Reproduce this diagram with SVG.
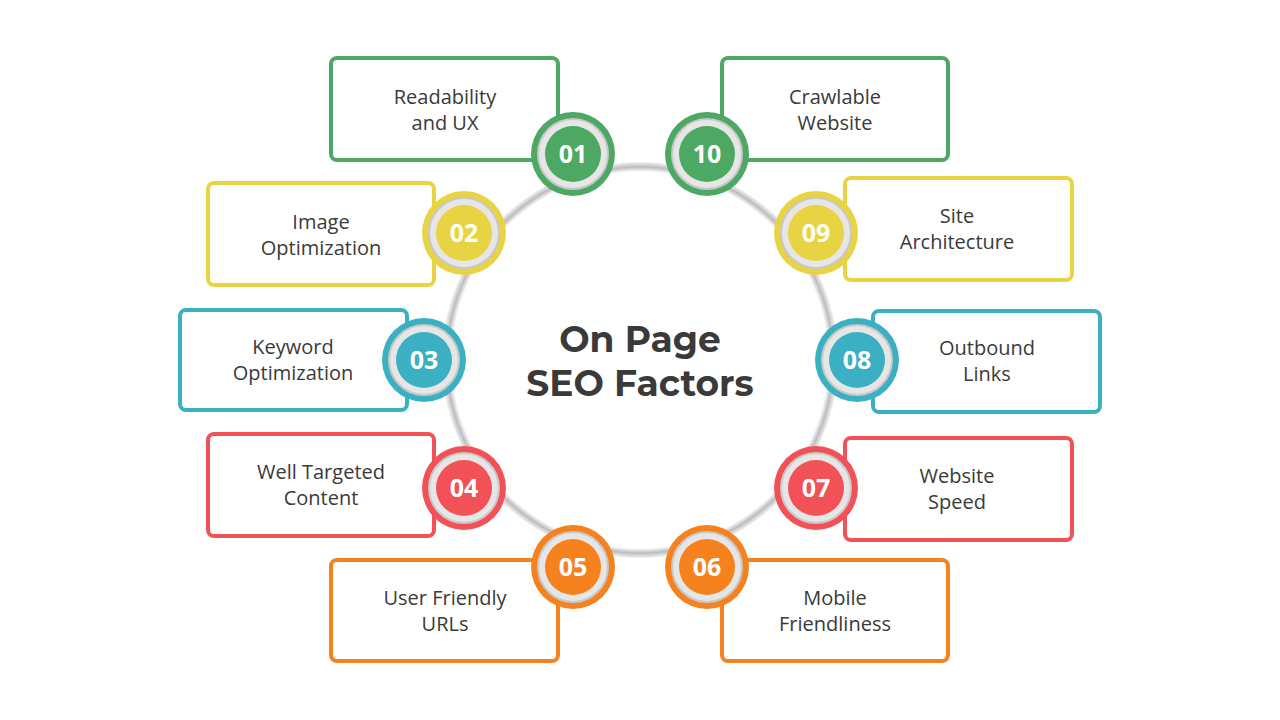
<svg xmlns="http://www.w3.org/2000/svg" width="1280" height="720" viewBox="0 0 1280 720">
<defs>
<style>
.box{fill:#fff;stroke-width:4}
.lbl{font-family:"Open Sans","Liberation Sans",sans-serif;font-size:20px;fill:#3a3a3a;text-anchor:middle}
.num{font-family:"Open Sans","Liberation Sans",sans-serif;font-size:25px;font-weight:bold;fill:#fff;text-anchor:middle}
.ring{fill:#e6e6e6;stroke:#c8c8c8;stroke-width:2}
.g{stroke:#4CA862}.gf{fill:#4CA862}
.y{stroke:#E8D443}.yf{fill:#E8D443}
.t{stroke:#3CB0C3}.tf{fill:#3CB0C3}
.r{stroke:#F25157}.rf{fill:#F25157}
.o{stroke:#F5821F}.of{fill:#F5821F}
</style>
<radialGradient id="rg" cx="0.5" cy="0.5" r="0.5">
<stop offset="0.95" stop-color="#fff"/><stop offset="0.975" stop-color="#bdbdbd"/><stop offset="1" stop-color="#f2f2f2"/>
</radialGradient>
</defs>
<rect width="1280" height="720" fill="#fff"/>
<g id="center">
<circle cx="640" cy="360" r="198" fill="url(#rg)"/>
<text x="640" y="352" font-family="Montserrat,'Open Sans','Liberation Sans',sans-serif" font-size="36" font-weight="bold" fill="#3a3a3a" text-anchor="middle">On Page</text>
<text x="640" y="396" font-family="Montserrat,'Open Sans','Liberation Sans',sans-serif" font-size="36" font-weight="bold" fill="#3a3a3a" text-anchor="middle">SEO Factors</text>
</g>
<g id="connectors"></g>
<g id="n01"><rect class="box g" x="331" y="58" width="227" height="102" rx="6"/><text class="lbl" x="445" y="104">Readability</text><text class="lbl" x="445" y="130">and UX</text><circle class="gf" cx="573" cy="154" r="42"/><circle class="ring" cx="573" cy="154" r="35"/><circle class="gf" cx="573" cy="154" r="28"/><text class="num" x="573" y="163">01</text></g>
<g id="n10"><rect class="box g" x="722" y="58" width="226" height="102" rx="6"/><text class="lbl" x="835" y="104">Crawlable</text><text class="lbl" x="835" y="130">Website</text><circle class="gf" cx="707" cy="154" r="42"/><circle class="ring" cx="707" cy="154" r="35"/><circle class="gf" cx="707" cy="154" r="28"/><text class="num" x="707" y="163">10</text></g>
<g id="n02"><rect class="box y" x="208" y="183" width="226" height="102" rx="6"/><text class="lbl" x="321" y="229">Image</text><text class="lbl" x="321" y="255">Optimization</text><circle class="yf" cx="464" cy="233" r="42"/><circle class="ring" cx="464" cy="233" r="35"/><circle class="yf" cx="464" cy="233" r="28"/><text class="num" x="464" y="242">02</text></g>
<g id="n09"><rect class="box y" x="845" y="178" width="227" height="102" rx="6"/><text class="lbl" x="957" y="223">Site</text><text class="lbl" x="957" y="249">Architecture</text><circle class="yf" cx="816" cy="233" r="42"/><circle class="ring" cx="816" cy="233" r="35"/><circle class="yf" cx="816" cy="233" r="28"/><text class="num" x="816" y="242">09</text></g>
<g id="n03"><rect class="box t" x="180" y="310" width="227" height="100" rx="6"/><text class="lbl" x="293" y="354">Keyword</text><text class="lbl" x="293" y="380">Optimization</text><circle class="tf" cx="424" cy="360" r="42"/><circle class="ring" cx="424" cy="360" r="35"/><circle class="tf" cx="424" cy="360" r="28"/><text class="num" x="424" y="369">03</text></g>
<g id="n08"><rect class="box t" x="873" y="311" width="227" height="101" rx="6"/><text class="lbl" x="987" y="355">Outbound</text><text class="lbl" x="987" y="381">Links</text><circle class="tf" cx="857" cy="360" r="42"/><circle class="ring" cx="857" cy="360" r="35"/><circle class="tf" cx="857" cy="360" r="28"/><text class="num" x="857" y="369">08</text></g>
<g id="n04"><rect class="box r" x="208" y="434" width="226" height="102" rx="6"/><text class="lbl" x="321" y="479">Well Targeted</text><text class="lbl" x="321" y="505">Content</text><circle class="rf" cx="464" cy="488" r="42"/><circle class="ring" cx="464" cy="488" r="35"/><circle class="rf" cx="464" cy="488" r="28"/><text class="num" x="464" y="497">04</text></g>
<g id="n07"><rect class="box r" x="845" y="438" width="227" height="102" rx="6"/><text class="lbl" x="957" y="483">Website</text><text class="lbl" x="957" y="509">Speed</text><circle class="rf" cx="816" cy="488" r="42"/><circle class="ring" cx="816" cy="488" r="35"/><circle class="rf" cx="816" cy="488" r="28"/><text class="num" x="816" y="497">07</text></g>
<g id="n05"><rect class="box o" x="331" y="560" width="227" height="101" rx="6"/><text class="lbl" x="445" y="605">User Friendly</text><text class="lbl" x="445" y="631">URLs</text><circle class="of" cx="573" cy="567" r="42"/><circle class="ring" cx="573" cy="567" r="35"/><circle class="of" cx="573" cy="567" r="28"/><text class="num" x="573" y="576">05</text></g>
<g id="n06"><rect class="box o" x="722" y="560" width="226" height="101" rx="6"/><text class="lbl" x="835" y="605">Mobile</text><text class="lbl" x="835" y="631">Friendliness</text><circle class="of" cx="707" cy="567" r="42"/><circle class="ring" cx="707" cy="567" r="35"/><circle class="of" cx="707" cy="567" r="28"/><text class="num" x="707" y="576">06</text></g>
</svg>
